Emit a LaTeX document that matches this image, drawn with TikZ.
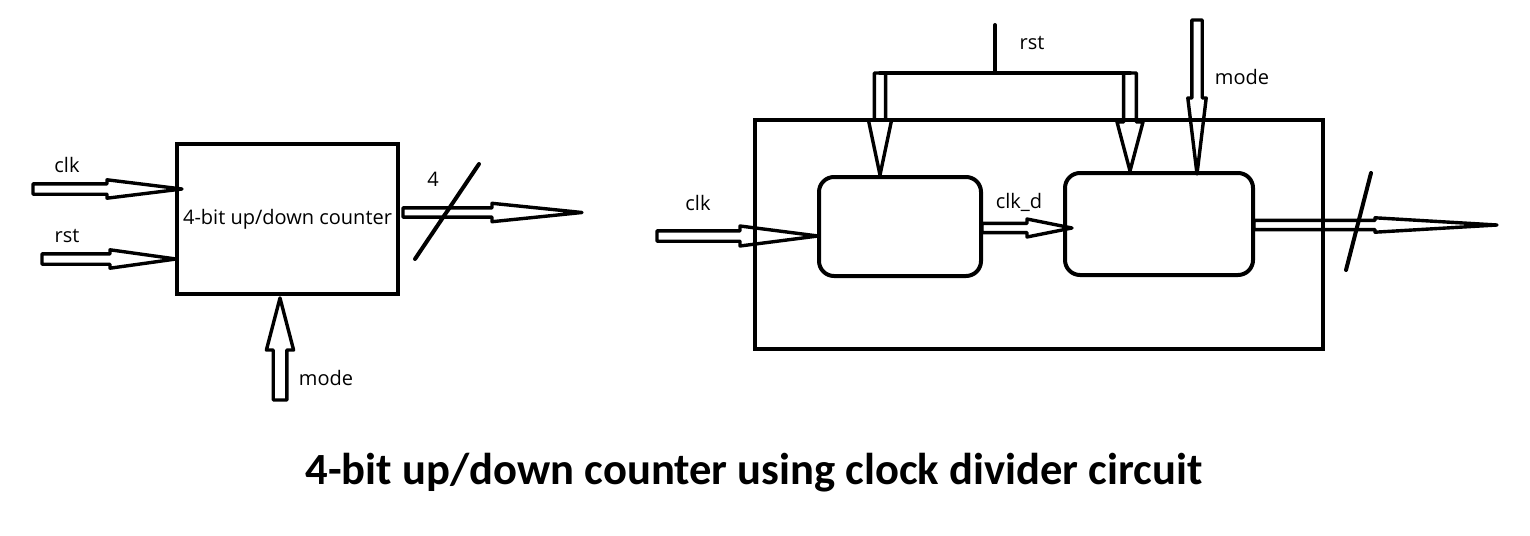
\documentclass[tikz,border=0pt]{standalone}
\usepackage{fontspec}
\setmainfont{Open Sans}
\newfontfamily\titlefont{Carlito}
\usetikzlibrary{calc}
\newcommand\hollowarrow[5]{%
  \path ($(#2)!#3!(#1)$) coordinate (ha-p);
  \draw[arrowline] ($(#1)!#4!-90:(#2)$) -- ($(ha-p)!#4!90:(#1)$) -- ($(ha-p)!#5!90:(#1)$) -- (#2) -- ($(ha-p)!#5!-90:(#1)$) -- ($(ha-p)!#4!-90:(#1)$) -- ($(#1)!#4!90:(#2)$) -- cycle;
}
\tikzset{
  arrowline/.style={draw=black, line width=1.7pt, line join=round},
  box/.style={draw=black, line width=2pt, inner sep=0pt, font=\fontsize{10}{12}\selectfont},
  rbox/.style={draw=black, line width=2pt, rounded corners=7.5pt, inner sep=0pt},
  lbl/.style={anchor=base, inner sep=0pt, font=\fontsize{10}{12}\selectfont},
  wire/.style={draw=black, line width=2pt, line cap=round},
}
\begin{document}
\begin{tikzpicture}[x=0.5pt, y=-0.5pt]
\useasboundingbox (0,0) rectangle (1530,535);
% ---------- left diagram ----------
\node[box, minimum width=110.5pt, minimum height=75pt] (cnt) at (287.5,219) {4-bit up/down counter};
\coordinate (clkLs) at (33,189);
\coordinate (clkLe) at (182,189);
\coordinate (rstLs) at (42,259);
\coordinate (rstLe) at (176,259);
\coordinate (outLs) at (403,212.5);
\coordinate (outLe) at (582,212.5);
\coordinate (modeLs) at (280,400);
\coordinate (modeLe) at (280,298);
\coordinate (slLa) at (479,164);
\coordinate (slLb) at (415,259);
\hollowarrow{clkLs}{clkLe}{37.5pt}{2.6pt}{4.6pt}
\hollowarrow{rstLs}{rstLe}{33pt}{2.6pt}{4.6pt}
\hollowarrow{outLs}{outLe}{45pt}{2.3pt}{4.6pt}
\hollowarrow{modeLs}{modeLe}{26pt}{3.4pt}{6.8pt}
\draw[wire] (slLa) -- (slLb);
\node[lbl] (lclkL) at (67,172) {clk};
\node[lbl] (lrstL) at (67,242) {rst};
\node[lbl] (lfour) at (433,186) {4};
\node[lbl] (lmodeL) at (326,385) {mode};
% ---------- right diagram ----------
\node[box, minimum width=284pt, minimum height=114.5pt] (frame) at (1039,234.5) {};
\node[rbox, minimum width=81pt, minimum height=49.5pt] (div) at (900,226.5) {};
\node[rbox, minimum width=94pt, minimum height=51pt] (ctr) at (1159,224) {};
\coordinate (rstTop) at (995,25);
\coordinate (rstJ) at (995,73);
\coordinate (busL) at (880,73);
\coordinate (busR) at (1130,73);
\coordinate (rstAe) at (880,175);
\coordinate (rstBe) at (1130,171);
\coordinate (modeRs) at (1197,20);
\coordinate (modeRe) at (1197,174);
\coordinate (clkRs) at (657,236);
\coordinate (clkRe) at (818,236);
\coordinate (clkds) at (982,228);
\coordinate (clkde) at (1072,228);
\coordinate (outRs) at (1254,225);
\coordinate (outRe) at (1497,225);
\coordinate (slRa) at (1371,173);
\coordinate (slRb) at (1346,270);
\draw[wire] (rstTop) -- (rstJ);
\draw[wire] (busL) -- (busR);
\hollowarrow{busL}{rstAe}{27.5pt}{2.8pt}{5.8pt}
\hollowarrow{busR}{rstBe}{24.5pt}{3.2pt}{6.5pt}
\hollowarrow{modeRs}{modeRe}{38pt}{2.6pt}{4.6pt}
\hollowarrow{clkRs}{clkRe}{39pt}{2.6pt}{5pt}
\hollowarrow{clkds}{clkde}{22.5pt}{2.3pt}{4.5pt}
\hollowarrow{outRs}{outRe}{61pt}{2.3pt}{3.6pt}
\draw[wire] (slRa) -- (slRb);
\node[lbl] (lclkR) at (698,210) {clk};
\node[lbl] (lclkd) at (1019,208) {clk\_d};
\node[lbl] (lrstR) at (1032,50) {rst};
\node[lbl] (lmodeR) at (1242,85) {mode};
% ---------- title ----------
\node[anchor=base, inner sep=0pt, font=\titlefont\bfseries\fontsize{22.3}{26}\selectfont] (title) at (754,484) {4-bit up/down counter using clock divider circuit};
\end{tikzpicture}
\end{document}
